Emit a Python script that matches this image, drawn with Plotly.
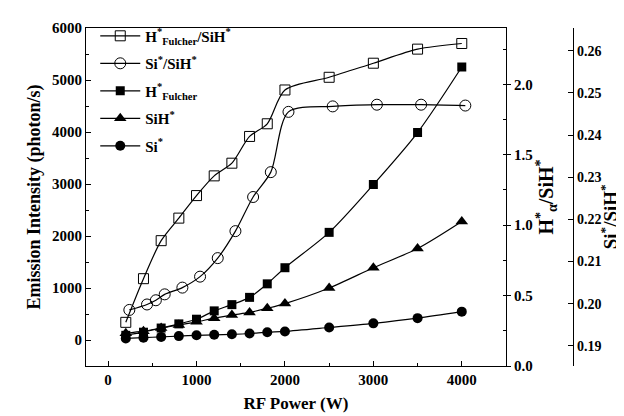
import plotly.graph_objects as go

# RF power (W)
power = [200, 400, 600, 800, 1000, 1200, 1400, 1600, 1800, 2000, 2500, 3000, 3500, 4000]
power_si_ratio = [240, 440, 540, 640, 840, 1040, 1240, 1440, 1640, 1840, 2040, 2540, 3040, 3540, 4040]

# Ratios
h_fulcher_over_sih = [0.31, 0.62, 0.89, 1.05, 1.21, 1.35, 1.44, 1.63, 1.72, 1.96, 2.05, 2.15, 2.25, 2.29]
si_over_sih = [0.1985, 0.1998, 0.2008, 0.2022, 0.2038, 0.2064, 0.2108, 0.2172, 0.2253, 0.2312,
               0.2455, 0.2468, 0.2472, 0.2472, 0.2470]

# Emission intensities (photon/s)
h_fulcher = [90, 150, 230, 310, 400, 560, 680, 820, 1080, 1390, 2070, 2990, 3990, 5250]
sih = [130, 170, 230, 290, 350, 420, 480, 530, 610, 700, 1000, 1390, 1760, 2280]
si = [30, 45, 60, 75, 90, 100, 110, 125, 150, 165, 240, 320, 420, 545]

FONT = "Liberation Serif, Times New Roman, DejaVu Serif, serif"
BLACK = "black"
line = dict(color=BLACK, width=1.2, shape="spline", smoothing=0.8)

fig = go.Figure()
fig.add_trace(go.Scatter(x=power, y=h_fulcher_over_sih, yaxis="y2", mode="lines+markers",
                         name="H<sup>*</sup><sub>Fulcher</sub>/SiH<sup>*</sup>", line=line, legendgroup="a",
                         marker=dict(symbol="square-open", size=10, color=BLACK, line=dict(width=1))))
fig.add_trace(go.Scatter(x=power_si_ratio, y=si_over_sih, yaxis="y3", mode="lines+markers",
                         name="Si<sup>*</sup>/SiH<sup>*</sup>", line=line, legendgroup="b",
                         marker=dict(symbol="circle-open", size=11, color=BLACK, line=dict(width=1))))
fig.add_trace(go.Scatter(x=power, y=h_fulcher, mode="lines+markers",
                         name="H<sup>*</sup><sub>Fulcher</sub>", line=line, legendgroup="c",
                         marker=dict(symbol="square", size=9, color=BLACK)))
fig.add_trace(go.Scatter(x=power, y=sih, mode="lines+markers",
                         name="SiH<sup>*</sup>", line=line, legendgroup="d",
                         marker=dict(symbol="triangle-up", size=11, color=BLACK)))
fig.add_trace(go.Scatter(x=power, y=si, mode="lines+markers",
                         name="Si<sup>*</sup>", line=line, legendgroup="e",
                         marker=dict(symbol="circle", size=10, color=BLACK)))

tickfont = dict(family=FONT, size=15, color=BLACK, weight="bold")
sitickfont = dict(family=FONT, size=14, color=BLACK, weight="bold")
titlefont = dict(family=FONT, size=17, color=BLACK, weight="bold")
lefttitlefont = dict(family=FONT, size=18, color=BLACK, weight="bold")
righttitlefont = dict(family=FONT, size=20, color=BLACK, weight="bold")

fig.update_layout(
    width=624, height=416,
    margin=dict(l=78, r=59, t=17, b=58),
    paper_bgcolor="white", plot_bgcolor="white",
    showlegend=True,
    legend=dict(x=0.019, y=1.025, xanchor="left", yanchor="top",
                font=dict(family=FONT, size=15, color=BLACK, weight="bold"),
                bgcolor="rgba(0,0,0,0)", itemwidth=40, tracegroupgap=5),
    xaxis=dict(domain=[0, 0.8624], range=[-250, 4500], tick0=0, dtick=1000,
               ticks="inside", ticklen=5, tickcolor=BLACK,
               minor=dict(dtick=500, ticks="inside", ticklen=3, tickcolor=BLACK),
               showline=True, linecolor=BLACK, linewidth=1.2, mirror=True,
               showgrid=False, zeroline=False, tickfont=tickfont, automargin=False,
               title=dict(text="RF Power (W)", font=titlefont, standoff=10)),
    yaxis=dict(range=[-500, 6000], tick0=0, dtick=1000,
               ticks="inside", ticklen=5, tickcolor=BLACK,
               minor=dict(dtick=500, ticks="inside", ticklen=3, tickcolor=BLACK),
               showline=True, linecolor=BLACK, linewidth=1.2,
               showgrid=False, zeroline=False, tickfont=tickfont, automargin=False,
               title=dict(text="Emission Intensity (photon/s)", font=lefttitlefont, standoff=6)),
    yaxis2=dict(overlaying="y", anchor="x", side="right", range=[0, 2.4], tick0=0, dtick=0.5,
                tickformat=".1f", ticks="outside", ticklen=4, tickcolor=BLACK,
                minor=dict(dtick=0.25, ticks="inside", ticklen=3, tickcolor=BLACK),
                showline=True, linecolor=BLACK, linewidth=1.2,
                showgrid=False, zeroline=False, tickfont=tickfont, automargin=False,
                title=dict(text="H<sup>*</sup><sub>α</sub>/SiH<sup>*</sup>", font=righttitlefont, standoff=0)),
    yaxis3=dict(overlaying="y", anchor="free", position=1.0, side="right",
                range=[0.1852, 0.2654], tick0=0.19, dtick=0.01, tickformat=".2f",
                ticks="inside", ticklen=5, tickcolor=BLACK,
                showline=True, linecolor=BLACK, linewidth=1.2,
                showgrid=False, zeroline=False, tickfont=sitickfont, automargin=False),
    annotations=[dict(text="Si<sup>*</sup>/SiH<sup>*</sup>", xref="paper", yref="paper",
                      x=(601 - 78) / 487, y=(358 - 208) / 341, xanchor="center", yanchor="middle",
                      textangle=-90, showarrow=False, font=dict(family=FONT, size=19, color=BLACK, weight="bold"))],
)

fig.write_html("out.html")
